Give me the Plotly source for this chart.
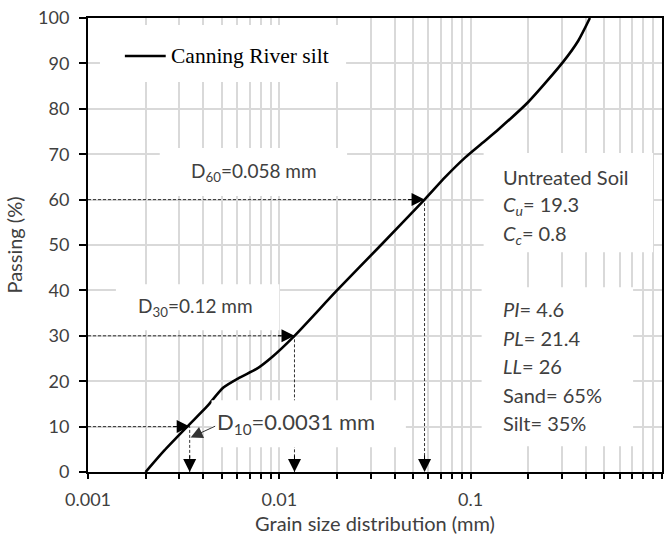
import numpy as np
import plotly.graph_objects as go

# ---- data ----
grain_mm = [0.002, 0.0025, 0.0033, 0.0042, 0.0051, 0.0062, 0.0076, 0.0092, 0.012,
            0.020, 0.034, 0.0574, 0.0738, 0.0938, 0.1146, 0.140, 0.20, 0.305, 0.365, 0.42]
passing = [0, 4.7, 10, 14.5, 18.6, 20.8, 22.7, 25.4, 30,
           40, 50, 60, 65.0, 69.3, 72.4, 75.5, 81.5, 90.4, 95.0, 100]
series_name = "Canning River silt"

d_levels = [10, 30, 60]
d_sizes = [0.0034, 0.012, 0.0574]
d_labels = ["D<sub>10</sub>=0.0031 mm", "D<sub>30</sub>=0.12 mm", "D<sub>60</sub>=0.058 mm"]

props_top = ["Untreated Soil", "<i>C</i><sub><i>u</i></sub>= 19.3", "<i>C</i><sub><i>c</i></sub>= 0.8"]
props_bottom = ["<i>PI</i>= 4.6", "<i>PL</i>= 21.4", "<i>LL</i>= 26", "Sand= 65%", "Silt= 35%"]

x_major = [0.001, 0.01, 0.1, 1]
x_major_text = ["0.001", "0.01", "0.1", "1"]
y_ticks = list(range(0, 101, 10))

# ---- layout helpers (pixel -> plot-area fraction) ----
L, R, T, B = 88, 664, 18, 471.7
def dx(px): return (px - L) / (R - L)
def dy(py): return (B - py) / (B - T)

FONT = "Lato"
GRID = "#d9d9d9"
TXT = "#404040"

tickvals, ticktext = [], []
for dec in [0.001, 0.01, 0.1]:
    for m in range(1, 10):
        tickvals.append(dec * m)
        ticktext.append(x_major_text[x_major.index(dec)] if m == 1 else "")
tickvals.append(1)
ticktext.append("1")

fig = go.Figure()

# dashed guide lines
for lvl, dsz in zip(d_levels, d_sizes):
    fig.add_trace(go.Scatter(x=[0.001, dsz, dsz], y=[lvl, lvl, 0], mode="lines",
                             line=dict(color="#333333", width=1, dash="3px,2px"),
                             showlegend=False, hoverinfo="skip"))

fig.add_trace(go.Scatter(x=grain_mm, y=passing, mode="lines", name=series_name,
                         showlegend=False,
                         line=dict(color="black", width=2.6, shape="spline", smoothing=0.7)))

shapes = []
# white boxes that interrupt gridlines behind labels
for (x0, x1, y0, y1) in [(100, 347, 25, 82), (160, 348, 148, 196), (485, 655, 153, 252),
                         (116, 280, 284, 330), (483, 635, 287, 446), (212, 407, 400, 447)]:
    shapes.append(dict(type="rect", xref="x domain", yref="y domain",
                       x0=dx(x0), x1=dx(x1), y0=dy(y1), y1=dy(y0),
                       fillcolor="white", line=dict(width=0), layer="above"))
# legend sample line
shapes.append(dict(type="line", xref="x domain", yref="y domain",
                   x0=dx(125), x1=dx(166), y0=dy(56), y1=dy(56),
                   line=dict(color="black", width=2.6), layer="above"))

annotations = []
arrow_style = dict(text="", showarrow=True, arrowhead=2, arrowsize=2.6,
                   arrowwidth=1, arrowcolor="black", xref="x", yref="y")
for lvl, dsz in zip(d_levels, d_sizes):
    annotations.append(dict(x=np.log10(dsz), y=lvl, ax=-18, ay=0, **arrow_style))
    annotations.append(dict(x=np.log10(dsz), y=0, ax=0, ay=-18, **arrow_style))
# D10 pointer arrow
annotations.append(dict(x=np.log10(d_sizes[0]) + 0.005, y=d_levels[0] - 2.4,
                        ax=26, ay=-12, text="", showarrow=True, arrowhead=2, arrowsize=2.4,
                        arrowwidth=1, arrowcolor="#333333", xref="x", yref="y"))

annotations.append(dict(x=dx(169), y=dy(56), xref="paper", yref="paper", text=series_name,
                        showarrow=False, xanchor="left", yanchor="middle",
                        font=dict(family="Liberation Serif", size=21.5, color="black")))

lab_pos = [(297, 423), (196, 307), (255, 172)]
lab_size = [22, 19, 19]
for lab, (px, py), sz in zip(d_labels, lab_pos, lab_size):
    annotations.append(dict(x=dx(px), y=dy(py), xref="paper", yref="paper", text=lab,
                            showarrow=False, xanchor="center", yanchor="middle",
                            font=dict(family=FONT, size=sz, color=TXT)))

for i, t in enumerate(props_top):
    annotations.append(dict(x=dx(502), y=dy(177 + 28.5 * i), xref="paper", yref="paper",
                            text=t, showarrow=False, xanchor="left", yanchor="middle",
                            font=dict(family=FONT, size=20, color=TXT)))
for i, t in enumerate(props_bottom):
    annotations.append(dict(x=dx(502), y=dy(309 + 28.5 * i), xref="paper", yref="paper",
                            text=t, showarrow=False, xanchor="left", yanchor="middle",
                            font=dict(family=FONT, size=20, color=TXT)))

fig.update_layout(
    width=667, height=543, margin=dict(l=L, r=667 - R, t=T, b=543 - B),
    plot_bgcolor="white", paper_bgcolor="white",
    shapes=shapes, annotations=annotations, showlegend=False,
    xaxis=dict(type="log", range=[-3, 0], tickvals=tickvals, ticktext=ticktext,
               showgrid=True, gridcolor=GRID, gridwidth=2,
               ticks="outside", ticklen=5, tickwidth=1.5, tickcolor="black",
               showline=True, linecolor="black", linewidth=2, mirror=True,
               ticklabelstandoff=5,
               tickfont=dict(family=FONT, size=18, color=TXT),
               title=dict(text="Grain size distribution (mm)", standoff=8,
                          font=dict(family=FONT, size=20, color=TXT))),
    yaxis=dict(range=[0, 100], tickvals=y_ticks, showgrid=True, gridcolor=GRID, gridwidth=2,
               ticks="outside", ticklen=7, tickwidth=1.5, tickcolor="black",
               showline=True, linecolor="black", linewidth=2, mirror=True, zeroline=False,
               ticklabelstandoff=6,
               tickfont=dict(family=FONT, size=18, color=TXT),
               title=dict(text="Passing (%)", standoff=10,
                          font=dict(family=FONT, size=20, color=TXT))),
)

fig.write_html("out.html")
